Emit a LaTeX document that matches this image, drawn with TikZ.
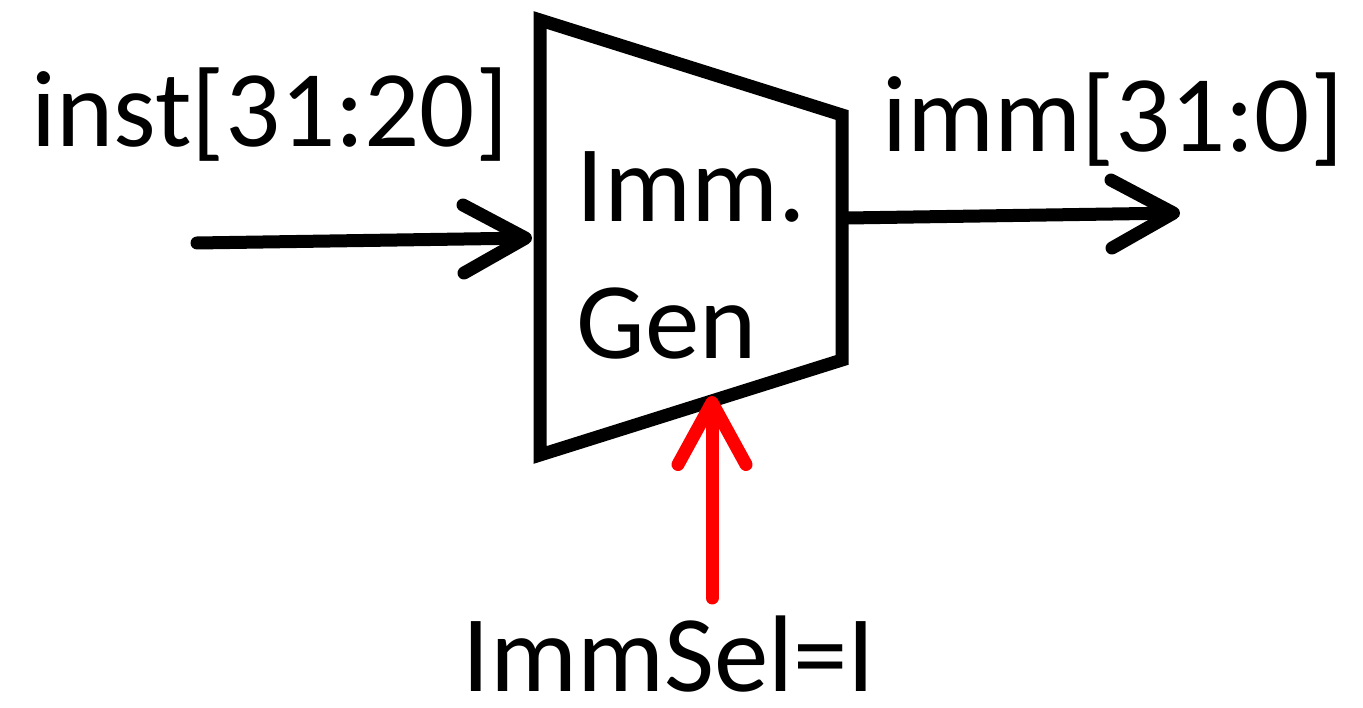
\documentclass[tikz,border=0pt]{standalone}
\usepackage{fontspec}
\setmainfont{Carlito}
\usepackage{tikz}
\usetikzlibrary{
    arrows.meta,
    positioning
}

\begin{document}
\begin{tikzpicture}[line cap=round,line join=miter,
   wire/.style={line width=3.7pt,-{Straight Barb[length=0.62cm,width=0.68cm,round]}},
   lbl/.style={font=\fontsize{31}{34}\selectfont,inner sep=0pt}]
\useasboundingbox (0,0) rectangle (13.63,7.08);
% corners of the immediate generator
\coordinate (tl) at (5.40,6.88);
\coordinate (tr) at (8.42,5.93);
\coordinate (br) at (8.42,3.48);
\coordinate (bl) at (5.40,2.53);
\draw[line width=3.7pt] (tl) -- (tr) -- (br) -- (bl) -- cycle;
\node[lbl,anchor=west] (imm) at (5.76,5.21) {Imm.};
\node[lbl,anchor=west] (gen) at (5.76,3.84) {Gen};
% ports
\coordinate (src) at (1.97,4.65);
\coordinate (gin) at (5.32,4.70);
\coordinate (gout) at (8.48,4.90);
\coordinate (dst) at (11.80,4.95);
\coordinate (sel) at (7.12,1.10);
\coordinate (gsel) at (7.12,3.12);
\draw[wire] (src) -- (gin);
\draw[wire] (gout) -- (dst);
\draw[wire,red] (sel) -- (gsel);
% signal names
\node[lbl] (inst) at (2.70,5.93) {inst[31:20]};
\node[lbl] (immout) at (11.13,5.88) {imm[31:0]};
\node[lbl] (immsel) at (6.69,0.54) {ImmSel=I};
\end{tikzpicture}
\end{document}
